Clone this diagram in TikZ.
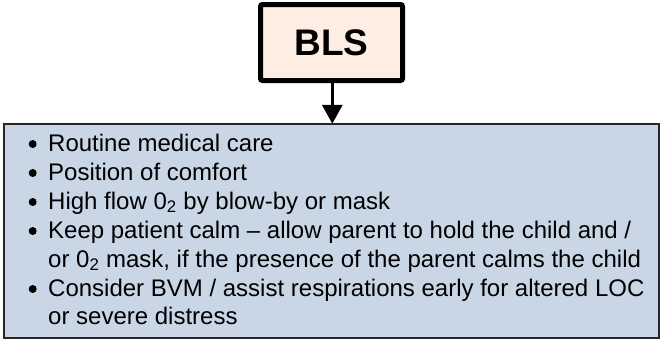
\documentclass[tikz,border=0pt]{standalone}
\usepackage{fontspec}
\setmainfont{Liberation Sans}
\usetikzlibrary{arrows.meta}
\definecolor{peach}{HTML}{FDEDE2}
\definecolor{paleblue}{HTML}{C9D6E6}
\tikzset{
  blsbox/.style={draw=black, line width=5bp, rounded corners=2bp, fill=peach, inner sep=0pt,
    minimum width=142bp, minimum height=76bp, font=\fontsize{37bp}{40bp}\selectfont\bfseries},
  listbox/.style={draw=black!85, line width=2.5bp, fill=paleblue, inner sep=0pt,
    minimum width=655bp, minimum height=214bp},
  itemtext/.style={anchor=base west, inner sep=0pt, align=left,
    font=\fontsize{24bp}{29bp}\selectfont},
  bulletdot/.style={circle, fill=black, inner sep=0pt, minimum size=8bp},
  flow/.style={line width=3.5bp, -{Triangle[width=20bp,length=19bp]}, shorten >=-1bp}
}
\begin{document}
\begin{tikzpicture}[x=1bp,y=-1bp]
\useasboundingbox (0,0) rectangle (661,339);
\node[blsbox] (bls) at (331.5,42.5) {BLS};
\node[listbox] (list) at (331.5,231) {};
\draw[flow] (bls.south -| 332.3,0) -- (list.north -| 332.3,0);
\node[itemtext] (t1) at (48,151) {Routine medical care};
\node[itemtext] (t2) at (48,180) {Position of comfort};
\node[itemtext] (t3) at (48,209) {High flow 0\textsubscript{2} by blow-by or mask};
\node[itemtext] (t4) at (48,238) {Keep patient calm – allow parent to hold the child and /};
\node[itemtext] (t5) at (48,267) {or 0\textsubscript{2} mask, if the presence of the parent calms the child};
\node[itemtext] (t6) at (48,296) {Consider BVM / assist respirations early for altered LOC};
\node[itemtext] (t7) at (48,324) {or severe distress};
\node[bulletdot] (b1) at (32.7,144) {};
\node[bulletdot] (b2) at (32.7,173) {};
\node[bulletdot] (b3) at (32.7,202) {};
\node[bulletdot] (b4) at (32.7,231) {};
\node[bulletdot] (b6) at (32.7,289) {};
\end{tikzpicture}
\end{document}
